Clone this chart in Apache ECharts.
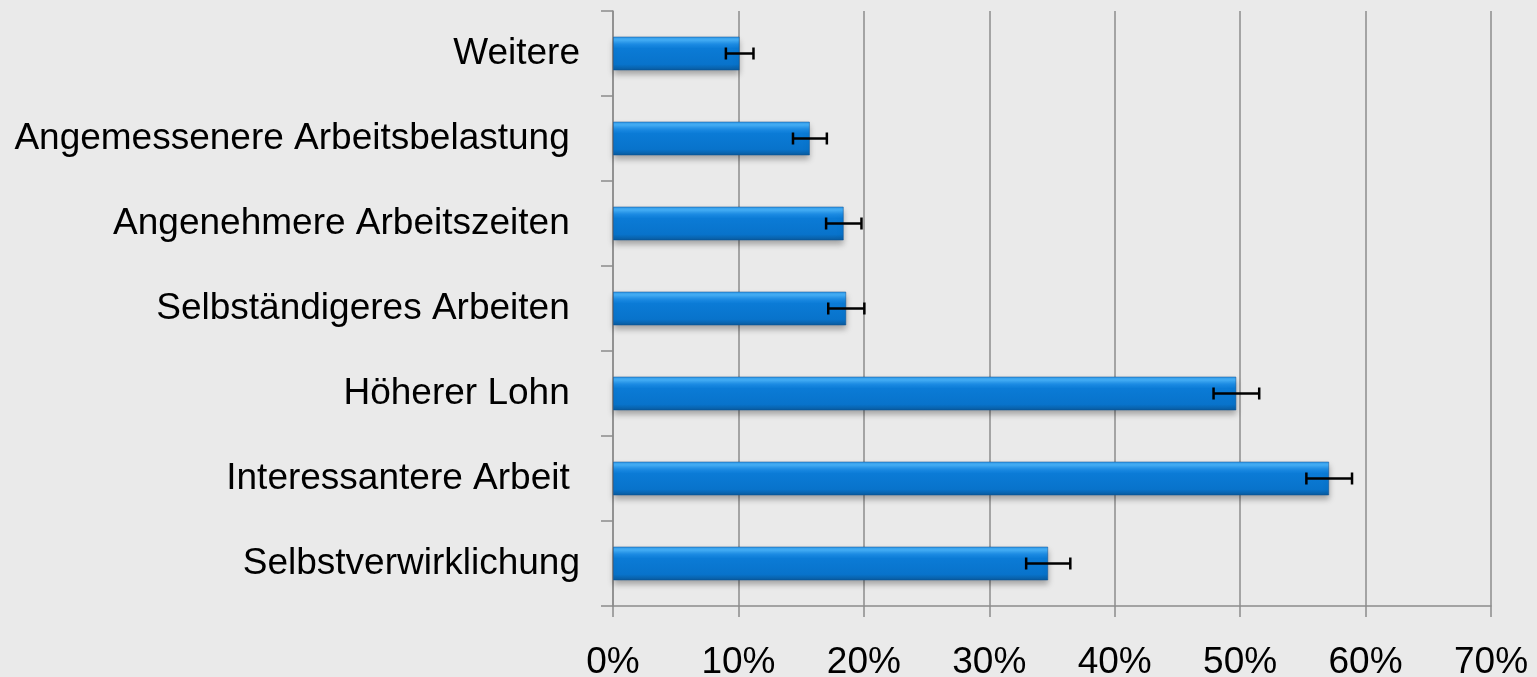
<!DOCTYPE html>
<html lang="de">
<head>
    <meta charset="UTF-8">
    <title>Gründe für Stellenwechsel</title>
    <script src="https://cdn.jsdelivr.net/npm/echarts@6/dist/echarts.min.js"></script>
    <style>
        html, body { margin: 0; padding: 0; background: #eaeaea; }
        #main { width: 1537px; height: 677px; }
    </style>
</head>
<body>
    <div id="main"></div>
    <script>
        // Kategorien von unten nach oben (Kategorieachse beginnt unten)
        var categories = [
            'Selbstverwirklichung',
            'Interessantere Arbeit ',
            'Höherer Lohn ',
            'Selbständigeres Arbeiten ',
            'Angenehmere Arbeitszeiten ',
            'Angemessenere Arbeitsbelastung ',
            'Weitere'
        ];
        // Anteil in Prozent
        var values = [34.7, 57.1, 49.7, 18.6, 18.4, 15.7, 10.1];
        // Fehlerbalken (+/- Prozentpunkte)
        var errors = [1.76, 1.82, 1.82, 1.44, 1.41, 1.35, 1.1];
        var xTicks = { min: 0, max: 70, step: 10 };

        var errorData = values.map(function (v, i) {
            return [i, v - errors[i], v + errors[i]];
        });

        var font = "'Liberation Sans', Arial, sans-serif";
        var myChart = echarts.init(document.getElementById('main'));

        var option = {
            backgroundColor: '#eaeaea',
            animation: false,
            grid: { left: 613, right: 46, top: 11, bottom: 71, containLabel: false, outerBoundsMode: 'none' },
            xAxis: {
                type: 'value',
                min: xTicks.min,
                max: xTicks.max,
                interval: xTicks.step,
                axisLine: { show: true, lineStyle: { color: '#8c8c8c', width: 1.5 } },
                axisTick: { show: true, length: 11, lineStyle: { color: '#8c8c8c', width: 1.5 } },
                splitLine: { show: true, lineStyle: { color: '#8c8c8c', width: 1.5 } },
                axisLabel: {
                    formatter: '{value}%',
                    color: '#000',
                    fontSize: 37,
                    fontFamily: font,
                    margin: 38
                }
            },
            yAxis: {
                type: 'category',
                data: categories,
                axisLine: { show: true, lineStyle: { color: '#8c8c8c', width: 1.5 } },
                axisTick: { show: true, length: 12, lineStyle: { color: '#8c8c8c', width: 1.5 } },
                splitLine: { show: false },
                axisLabel: {
                    color: '#000',
                    fontSize: 37,
                    fontFamily: font,
                    margin: 33
                }
            },
            series: [
                {
                    type: 'bar',
                    data: values,
                    barWidth: 34,
                    itemStyle: {
                        color: new echarts.graphic.LinearGradient(0, 0, 0, 1, [
                            { offset: 0, color: '#2f98e8' },
                            { offset: 0.1, color: '#45b0f8' },
                            { offset: 0.22, color: '#1e8ee6' },
                            { offset: 0.35, color: '#0b7bd6' },
                            { offset: 0.82, color: '#0873cb' },
                            { offset: 1, color: '#0a5a9c' }
                        ]),
                        borderColor: 'rgba(10,80,150,0.5)',
                        borderWidth: 1,
                        shadowColor: 'rgba(0,0,0,0.3)',
                        shadowBlur: 6,
                        shadowOffsetY: 4
                    },
                    z: 2
                },
                {
                    type: 'custom',
                    data: errorData,
                    z: 3,
                    renderItem: function (params, api) {
                        var cat = api.value(0);
                        var lo = api.coord([api.value(1), cat]);
                        var hi = api.coord([api.value(2), cat]);
                        var cap = 6;
                        var style = { stroke: '#000', lineWidth: 2.5 };
                        return {
                            type: 'group',
                            children: [
                                { type: 'line', shape: { x1: lo[0], y1: lo[1], x2: hi[0], y2: hi[1] }, style: style },
                                { type: 'line', shape: { x1: lo[0], y1: lo[1] - cap, x2: lo[0], y2: lo[1] + cap }, style: style },
                                { type: 'line', shape: { x1: hi[0], y1: hi[1] - cap, x2: hi[0], y2: hi[1] + cap }, style: style }
                            ]
                        };
                    },
                    encode: { x: [1, 2], y: 0 }
                }
            ]
        };

        myChart.setOption(option);
    </script>
</body>
</html>
